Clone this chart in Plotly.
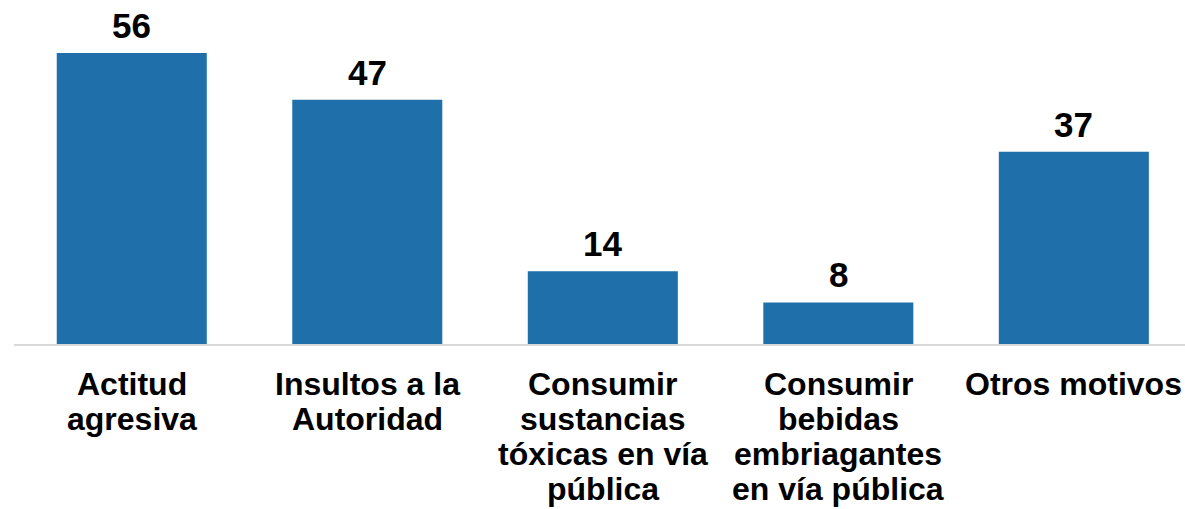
import plotly.graph_objects as go

categories = ["Actitud\nagresiva", "Insultos a la\nAutoridad",
              "Consumir\nsustancias\ntóxicas en vía\npública",
              "Consumir\nbebidas\nembriagantes\nen vía pública",
              "Otros motivos"]
values = [56, 47, 14, 8, 37]

BAR_COLOR = "#1F6FAA"
FONT = "Liberation Sans, Arial, sans-serif"

x_idx = list(range(len(categories)))

fig = go.Figure()
fig.add_trace(go.Bar(
    x=x_idx, y=values,
    marker=dict(color=BAR_COLOR, line=dict(width=0)),
    hoverinfo="skip",
))

for i, v in enumerate(values):
    fig.add_annotation(
        x=i, xref="x", y=v, yref="y",
        text=f"<b>{v}</b>", showarrow=False,
        xanchor="center", yanchor="bottom", yshift=6,
        font=dict(family=FONT, size=35, color="#000000"),
    )

LINE_H = 35
for i, cat in enumerate(categories):
    for j, line in enumerate(cat.split("\n")):
        fig.add_annotation(
            x=i, xref="x", y=0, yref="paper",
            text=f"<b>{line}</b>", showarrow=False,
            xanchor="center", yanchor="middle",
            yshift=-39.7 - LINE_H * j,
            font=dict(family=FONT, size=32, color="#000000"),
        )

fig.update_layout(
    width=1185, height=509,
    margin=dict(l=14, r=0, t=0, b=165),
    paper_bgcolor="white", plot_bgcolor="white",
    bargap=0.363,
    showlegend=False,
    xaxis=dict(range=[-0.5, 4.472], showticklabels=False, showgrid=False,
               zeroline=False, showline=True, linecolor="#D9D9D9", linewidth=2,
               ticks=""),
    yaxis=dict(range=[0, 66.2], visible=False, showgrid=False, zeroline=False),
)

fig.write_html("out.html",
               config={"displayModeBar": False},
               post_script="document.body.style.margin='0';document.body.style.overflow='hidden';")
